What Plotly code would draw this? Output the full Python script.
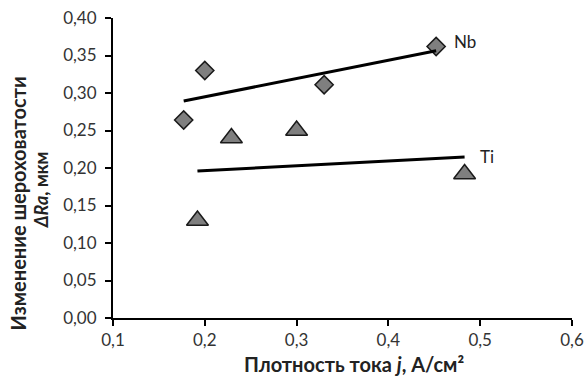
import numpy as np
import plotly.graph_objects as go

# Data
nb_x = [0.177, 0.200, 0.330, 0.452]
nb_y = [0.264, 0.330, 0.311, 0.362]
ti_x = [0.192, 0.229, 0.300, 0.483]
ti_y = [0.130, 0.240, 0.250, 0.192]

x_ticks = [0.1, 0.2, 0.3, 0.4, 0.5, 0.6]
x_labels = ["0,1", "0,2", "0,3", "0,4", "0,5", "0,6"]
y_ticks = [0.0, 0.05, 0.10, 0.15, 0.20, 0.25, 0.30, 0.35, 0.40]
y_labels = ["0,00", "0,05", "0,10", "0,15", "0,20", "0,25", "0,30", "0,35", "0,40"]

x_title = "<b>Плотность тока <i>j</i>, А/см²</b>"
y_title_1 = "<b>Изменение шероховатости</b>"
y_title_2 = "<b><i>ΔRa</i>, мкм</b>"

FONT = "Lato, 'Open Sans', sans-serif"


def trend(xs, ys):
    k, b = np.polyfit(xs, ys, 1)
    xr = [min(xs), max(xs)]
    return xr, [k * v + b for v in xr]


fig = go.Figure()

for xs, ys, sym, size in [(nb_x, nb_y, "diamond", 14), (ti_x, ti_y, "triangle-up", 19)]:
    fig.add_trace(go.Scatter(
        x=xs, y=ys, mode="markers",
        marker=dict(symbol=sym, size=size, color="#7f7f7f",
                    line=dict(color="#1a1a1a", width=1.5)),
        showlegend=False, hoverinfo="skip"))

for xs, ys in [(nb_x, nb_y), (ti_x, ti_y)]:
    tx, ty = trend(xs, ys)
    fig.add_trace(go.Scatter(x=tx, y=ty, mode="lines",
                             line=dict(color="black", width=3),
                             showlegend=False, hoverinfo="skip"))

fig.add_annotation(x=0.483, y=0.369, text="Nb", showarrow=False,
                   font=dict(family=FONT, size=17, color="#222"))
fig.add_annotation(x=0.507, y=0.2155, text="Ti", showarrow=False,
                   font=dict(family=FONT, size=17, color="#222"))

# axis titles
fig.add_annotation(xref="paper", yref="paper", x=0.524, y=-0.152,
                   text=x_title, showarrow=False, xanchor="center", yanchor="middle",
                   font=dict(family=FONT, size=20, color="#222"))
fig.add_annotation(xref="paper", yref="paper", x=-0.2076, y=0.381,
                   text=y_title_1, showarrow=False, textangle=-90,
                   xanchor="center", yanchor="middle",
                   font=dict(family=FONT, size=20, color="#222"))
fig.add_annotation(xref="paper", yref="paper", x=-0.1576, y=0.4277,
                   text=y_title_2, showarrow=False, textangle=-90,
                   xanchor="center", yanchor="middle",
                   font=dict(family=FONT, size=18, color="#222"))

fig.update_layout(
    width=587, height=376,
    margin=dict(l=113, r=15, t=18, b=58, autoexpand=False),
    paper_bgcolor="white", plot_bgcolor="white",
    font=dict(family=FONT, size=17, color="#222"),
    xaxis=dict(range=[0.1, 0.6], tickvals=x_ticks, ticktext=x_labels,
               showgrid=False, zeroline=False, showline=True, automargin=False,
               linecolor="black", linewidth=2, ticks="outside",
               ticklen=6, tickwidth=2, tickcolor="black",
               tickfont=dict(size=17, color="#333")),
    yaxis=dict(range=[0, 0.40], tickvals=y_ticks, ticktext=y_labels,
               showgrid=False, zeroline=False, showline=True, automargin=False,
               linecolor="black", linewidth=2, ticks="outside",
               ticklen=6, tickwidth=2, tickcolor="black", ticklabelstandoff=5,
               tickfont=dict(size=17, color="#333")),
)

# remove the default 8px page margin so the figure fills the window exactly
fig.write_html("out.html", config={"displayModeBar": False},
               post_script="document.body.style.margin='0';")
